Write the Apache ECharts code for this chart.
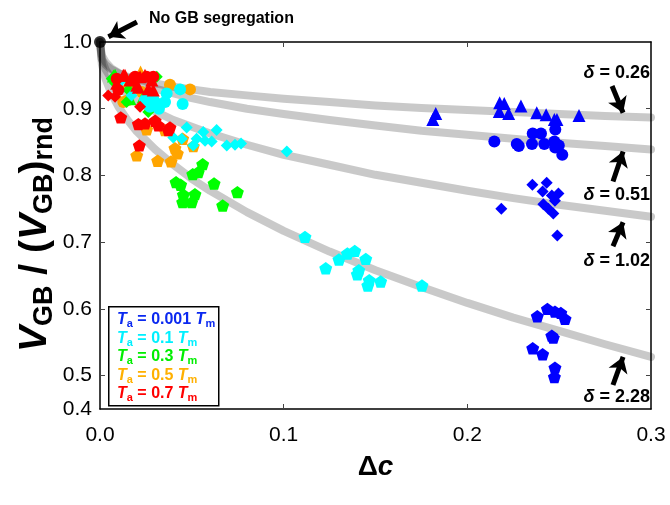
<!DOCTYPE html>
<html>
<head>
<meta charset="utf-8">
<script src="https://cdn.jsdelivr.net/npm/echarts@6/dist/echarts.min.js"></script>
<style>
  html, body { margin: 0; padding: 0; background: #fff; }
  #chart { width: 670px; height: 505px; }
</style>
</head>
<body>
<div id="chart"></div>
<script>
// ---- axis ticks ----
const xTickValues = [0, 0.1, 0.2, 0.3];
const yLabelValues = [0.45, 0.5, 0.6, 0.7, 0.8, 0.9, 1.0];
const yLabelText = ['0.4', '0.5', '0.6', '0.7', '0.8', '0.9', '1.0'];
const yTickValues = [0.5, 0.6, 0.7, 0.8, 0.9];

// ---- fitted trend curves, one per delta ----
const fitX     = [0, 0.001, 0.003, 0.006, 0.01, 0.015, 0.02, 0.03, 0.04, 0.05, 0.06, 0.08, 0.1, 0.125, 0.15, 0.175, 0.2, 0.225, 0.25, 0.275, 0.3];
const curve026 = [1, 0.974, 0.966, 0.959, 0.953, 0.948, 0.944, 0.938, 0.933, 0.929, 0.925, 0.920, 0.915, 0.910, 0.905, 0.901, 0.898, 0.895, 0.892, 0.889, 0.887];
const curve051 = [1, 0.980, 0.970, 0.961, 0.954, 0.946, 0.940, 0.930, 0.923, 0.916, 0.910, 0.900, 0.892, 0.883, 0.875, 0.867, 0.861, 0.855, 0.849, 0.844, 0.839];
const curve102 = [1, 0.974, 0.959, 0.946, 0.933, 0.922, 0.912, 0.896, 0.883, 0.873, 0.863, 0.846, 0.831, 0.816, 0.801, 0.789, 0.777, 0.766, 0.756, 0.747, 0.738];
const curve228 = [1, 0.967, 0.945, 0.924, 0.903, 0.883, 0.866, 0.839, 0.816, 0.795, 0.777, 0.745, 0.717, 0.686, 0.658, 0.633, 0.609, 0.587, 0.567, 0.547, 0.528];
const deltaText = ['0.26', '0.51', '1.02', '2.28'];

// ---- simulation points [dc, V_GB/(V_GB)rnd] ----
// Ta = 0.001 Tm
const blueTri  = [[0.2176,0.909],[0.2201,0.908],[0.2292,0.904],[0.2174,0.896],[0.2225,0.893],[0.2378,0.894],[0.2429,0.891],[0.2474,0.884],[0.2488,0.884],[0.2608,0.890],[0.1828,0.893],[0.1812,0.884]];
const blueCirc = [[0.2147,0.851],[0.2269,0.847],[0.2280,0.844],[0.2356,0.863],[0.2401,0.863],[0.2352,0.847],[0.2419,0.847],[0.2479,0.869],[0.2474,0.851],[0.2478,0.842],[0.2498,0.845],[0.2517,0.831]];
const blueDiam = [[0.2354,0.786],[0.2432,0.789],[0.2410,0.776],[0.2496,0.773],[0.2460,0.770],[0.2477,0.762],[0.2414,0.757],[0.2441,0.750],[0.2468,0.743],[0.2185,0.750],[0.2490,0.710]];
const bluePent = [[0.2436,0.600],[0.2477,0.596],[0.2509,0.594],[0.2532,0.585],[0.2381,0.589],[0.2460,0.560],[0.2468,0.557],[0.2356,0.541],[0.2410,0.532],[0.2477,0.512],[0.2474,0.498]];
// Ta = 0.1 Tm
const cyanCirc = [[0.0436,0.929],[0.0450,0.907],[0.0363,0.923],[0.0354,0.910],[0.0318,0.907],[0.0290,0.915],[0.0245,0.913],[0.0272,0.903],[0.0321,0.900]];
const cyanDiam = [[0.0472,0.872],[0.0399,0.857],[0.0445,0.855],[0.0508,0.845],[0.0562,0.865],[0.0635,0.868],[0.0526,0.855],[0.0572,0.852],[0.0608,0.851],[0.0690,0.845],[0.0735,0.846],[0.0768,0.848],[0.1017,0.836],[0.0109,0.940],[0.0172,0.920]];
const cyanPent = [[0.1116,0.708],[0.1301,0.674],[0.1347,0.683],[0.1387,0.687],[0.1447,0.675],[0.1229,0.661],[0.1409,0.658],[0.1401,0.652],[0.1466,0.643],[0.1458,0.635],[0.1528,0.641],[0.1753,0.635]];
// Ta = 0.3 Tm
const greenTri  = [[0.0073,0.949],[0.0181,0.943],[0.0236,0.918],[0.0163,0.915],[0.0082,0.950]];
const greenDiam = [[0.0082,0.938],[0.0145,0.910],[0.0263,0.895],[0.0309,0.948],[0.0064,0.945],[0.0154,0.928]];
const greenPent = [[0.0559,0.817],[0.0505,0.802],[0.0535,0.805],[0.0414,0.790],[0.0439,0.786],[0.0621,0.788],[0.0748,0.775],[0.0454,0.771],[0.0517,0.772],[0.0450,0.760],[0.0499,0.760],[0.0668,0.755]];
// Ta = 0.5 Tm
const orangeTri  = [[0.0221,0.955],[0.0127,0.948],[0.0172,0.935],[0.0282,0.923],[0.0154,0.940]];
const orangeCirc = [[0.0381,0.936],[0.0490,0.929],[0.0127,0.910],[0.0227,0.925],[0.0154,0.913]];
const orangePent = [[0.0254,0.869],[0.0354,0.868],[0.0408,0.841],[0.0421,0.833],[0.0387,0.821],[0.0200,0.830],[0.0314,0.822],[0.0450,0.855],[0.0508,0.844]];
// Ta = 0.7 Tm
const redTri  = [[0.0127,0.950],[0.0163,0.943],[0.0218,0.948],[0.0245,0.950],[0.0282,0.943],[0.0263,0.930],[0.0290,0.928],[0.0200,0.935],[0.0091,0.938],[0.0136,0.950],[0.0209,0.932]];
const redCirc = [[0.0191,0.948],[0.0254,0.948],[0.0290,0.948],[0.0100,0.928],[0.0091,0.945]];
const redDiam = [[0.0045,0.920],[0.0218,0.903],[0.0082,0.918]];
const redPent = [[0.0113,0.887],[0.0209,0.877],[0.0245,0.878],[0.0300,0.882],[0.0318,0.875],[0.0381,0.872],[0.0372,0.868],[0.0214,0.845]];

// reference state without segregation
const noSegPoint = [[0, 1.0]];

// annotation arrows [x0, y0, x1, y1] in data units (tail -> head)
const arrowNoSeg = [0.0201, 1.030, 0.0046, 1.008];
const deltaArrows = [
  [0.2788, 0.934, 0.2848, 0.894],
  [0.2793, 0.791, 0.2848, 0.836],
  [0.2793, 0.694, 0.2848, 0.730],
  [0.2793, 0.486, 0.2848, 0.528]
];

// legend entries
const legendValues = ['0.001', '0.1', '0.3', '0.5', '0.7'];
const legendColors = ['#0a28f0', '#00f0ff', '#00ee00', '#ffb000', '#ff0000'];

const FONT = '"Liberation Sans", Arial, Helvetica, sans-serif';
const C = { blue: '#0000ff', cyan: '#00ffff', green: '#00ff00', orange: '#ffa500', red: '#ff0000' };
const PENTAGON = 'path://M50,0 L97.55,34.55 L79.39,90.45 L20.61,90.45 L2.45,34.55 Z';
const SHAPE = {
  tri:  { symbol: 'triangle', size: 13 },
  circ: { symbol: 'circle',   size: 12 },
  diam: { symbol: 'diamond',  size: 12 },
  pent: { symbol: PENTAGON,   size: 13 }
};

function scatter(data, color, shape) {
  return {
    type: 'scatter', data: data, symbol: SHAPE[shape].symbol, symbolSize: SHAPE[shape].size,
    symbolKeepAspect: true, itemStyle: { color: color, opacity: 1 }, z: 5, silent: true
  };
}
function curve(ys) {
  return {
    type: 'line', data: fitX.map((x, i) => [x, ys[i]]), smooth: false,
    showSymbol: false, clip: false, silent: true, z: 2,
    lineStyle: { width: 8, color: 'rgba(0,0,0,0.21)', cap: 'round', join: 'round' }
  };
}

const series = [
  curve(curve026), curve(curve051), curve(curve102), curve(curve228),
  scatter(blueTri, C.blue, 'tri'), scatter(blueCirc, C.blue, 'circ'),
  scatter(blueDiam, C.blue, 'diam'), scatter(bluePent, C.blue, 'pent'),
  scatter(orangePent, C.orange, 'pent'), scatter(orangeCirc, C.orange, 'circ'), scatter(orangeTri, C.orange, 'tri'),
  scatter(greenPent, C.green, 'pent'), scatter(greenDiam, C.green, 'diam'), scatter(greenTri, C.green, 'tri'),
  scatter(cyanPent, C.cyan, 'pent'), scatter(cyanDiam, C.cyan, 'diam'), scatter(cyanCirc, C.cyan, 'circ'),
  scatter(redPent, C.red, 'pent'), scatter(redDiam, C.red, 'diam'), scatter(redCirc, C.red, 'circ'), scatter(redTri, C.red, 'tri'),
  {
    type: 'scatter', data: noSegPoint, symbol: 'circle', symbolSize: 12, clip: false, z: 8, silent: true,
    itemStyle: { color: '#000' }
  },
  {
    type: 'lines', coordinateSystem: 'cartesian2d', clip: false, z: 9, silent: true,
    symbol: ['none', 'arrow'], symbolSize: 15,
    lineStyle: { color: '#000', width: 5, opacity: 1, curveness: 0 },
    data: [arrowNoSeg].concat(deltaArrows).map(a => ({ coords: [[a[0], a[1]], [a[2], a[3]]] }))
  }
];

function yFmt(v) {
  const i = yLabelValues.findIndex(a => Math.abs(a - v) < 1e-6);
  return i >= 0 ? yLabelText[i] : '';
}
const axisLineStyle = { color: '#000', width: 1.5 };
const tickStyle = { color: '#444', width: 1 };

const xAxisMain = {
  type: 'value', min: 0, max: 0.3, interval: 0.1, position: 'bottom',
  axisLine: { show: true, onZero: false, lineStyle: axisLineStyle },
  axisTick: { show: true, inside: true, length: 5, lineStyle: tickStyle, customValues: [0.1, 0.2] },
  axisLabel: { customValues: xTickValues, formatter: v => v.toFixed(1), margin: 16,
               fontSize: 21, color: '#000', fontFamily: FONT },
  splitLine: { show: false },
  name: '{d|\u0394}{c|c}', nameLocation: 'middle', nameGap: 44,
  nameTextStyle: { rich: {
    d: { fontSize: 28, fontWeight: 'bold', fontFamily: FONT, color: '#000' },
    c: { fontSize: 28, fontWeight: 'bold', fontStyle: 'italic', fontFamily: FONT, color: '#000' }
  } }
};
const xAxisTop = {
  type: 'value', min: 0, max: 0.3, interval: 0.1, position: 'top',
  axisLine: { show: true, onZero: false, lineStyle: axisLineStyle },
  axisTick: { show: true, inside: true, length: 5, lineStyle: tickStyle, customValues: [0.1, 0.2] },
  axisLabel: { show: false }, splitLine: { show: false }
};
const yAxisMain = {
  type: 'value', min: 0.45, max: 1.0, interval: 0.05, position: 'left',
  axisLine: { show: true, onZero: false, lineStyle: axisLineStyle },
  axisTick: { show: true, inside: true, length: 5, lineStyle: tickStyle, customValues: yTickValues },
  axisLabel: { customValues: yLabelValues, formatter: yFmt, margin: 8,
               fontSize: 21, color: '#000', fontFamily: FONT },
  splitLine: { show: false },
  name: '{v|V}{s|GB}{n| / (}{v|V}{s|GB}{n|)}{s|rnd}', nameLocation: 'middle', nameRotate: 90,
  nameGap: 42, nameMoveOverlap: false,
  nameTextStyle: {
    padding: [0, 18, 0, 0],
    rich: {
      v: { fontSize: 39, fontWeight: 'bold', fontStyle: 'italic', fontFamily: FONT, color: '#000' },
      n: { fontSize: 39, fontWeight: 'bold', fontFamily: FONT, color: '#000' },
      s: { fontSize: 27, fontWeight: 'bold', fontFamily: FONT, color: '#000', padding: [18, 0, 0, 0] }
    }
  }
};
const yAxisRight = {
  type: 'value', min: 0.45, max: 1.0, interval: 0.05, position: 'right',
  axisLine: { show: true, onZero: false, lineStyle: axisLineStyle },
  axisTick: { show: true, inside: true, length: 5, lineStyle: tickStyle, customValues: yTickValues },
  axisLabel: { show: false }, splitLine: { show: false }
};

// annotation texts and legend box
const boldTxt = (extra) => Object.assign({ fontFamily: FONT, fontWeight: 'bold', fill: '#000' }, extra);
const graphics = [
  { type: 'text', left: 149, top: 11, silent: true,
    style: boldTxt({ text: 'No GB segregation', fontSize: 16 }) }
];
const deltaY = [64, 186, 252, 388];
deltaText.forEach((t, i) => {
  graphics.push({
    type: 'text', right: 20, top: deltaY[i], silent: true,
    style: {
      text: '{d|\u03b4}{n| = ' + t + '}',
      rich: {
        d: boldTxt({ fontSize: 18, fontStyle: 'italic' }),
        n: boldTxt({ fontSize: 18 })
      }
    }
  });
});
graphics.push({
  type: 'rect', left: 108, top: 306, silent: true,
  shape: { width: 110, height: 99 },
  style: { fill: '#fff', stroke: '#000', lineWidth: 1.5 }, z: 100
});
legendValues.forEach((v, i) => {
  const col = legendColors[i];
  graphics.push({
    type: 'text', left: 117, top: 312 + i * 18.5, silent: true, z: 101,
    style: {
      text: '{t|T}{s|a}{n| = ' + v + ' }{t|T}{s|m}',
      rich: {
        t: { fontFamily: FONT, fontWeight: 'bold', fontStyle: 'italic', fontSize: 16, fill: col },
        n: { fontFamily: FONT, fontWeight: 'bold', fontSize: 16, fill: col },
        s: { fontFamily: FONT, fontWeight: 'bold', fontSize: 11, fill: col, padding: [8, 0, 0, 0] }
      }
    }
  });
});

const chart = echarts.init(document.getElementById('chart'), null, { renderer: 'canvas' });
chart.setOption({
  animation: false,
  backgroundColor: '#fff',
  grid: { left: 100, right: 19, top: 42, bottom: 96, containLabel: false },
  xAxis: [xAxisMain, xAxisTop],
  yAxis: [yAxisMain, yAxisRight],
  series: series,
  graphic: graphics
});
</script>
</body>
</html>
